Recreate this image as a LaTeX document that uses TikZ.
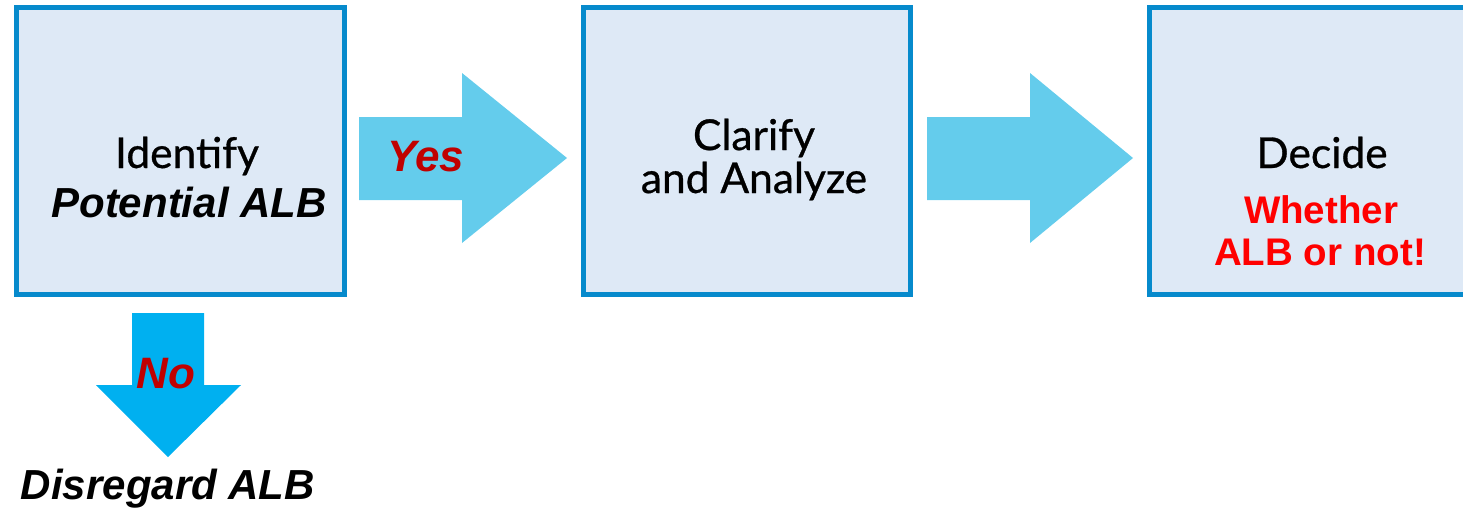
\documentclass[tikz,border=0pt]{standalone}
\usepackage{fontspec}
\setmainfont{Liberation Sans}
\newfontfamily\stepfont[FakeBold=0.7]{Lato}
\definecolor{boxfill}{RGB}{222,233,246}
\definecolor{boxline}{RGB}{6,138,204}
\definecolor{flowblue}{RGB}{100,204,236}
\definecolor{noblue}{RGB}{0,176,240}
\definecolor{darkred}{RGB}{192,0,0}
\definecolor{alertred}{RGB}{255,0,0}
\tikzset{
  stagebox/.style={draw=boxline, fill=boxfill, line width=5pt, rectangle,
    inner sep=0pt, outer sep=0pt, minimum width=#1, minimum height=287pt},
  stagetext/.style={font=\stepfont\fontsize{42.5}{46}\selectfont, anchor=base, inner sep=0pt},
  boldit/.style={font=\bfseries\itshape\fontsize{42}{48}\selectfont, anchor=base, inner sep=0pt},
  verdict/.style={font=\bfseries\fontsize{38.5}{44}\selectfont, text=alertred, anchor=base, inner sep=0pt},
  answer/.style={font=\bfseries\itshape\fontsize{44}{50}\selectfont, text=darkred, anchor=base, inner sep=0pt},
}
\begin{document}
\begin{tikzpicture}[x=1pt,y=-1pt]
  \useasboundingbox (0,0) rectangle (1463,509);
  \clip (0,0) rectangle (1463,509);

  % the three stages
  \node[stagebox=328pt] (identify) at (180.5,151) {};
  \node[stagebox=327pt] (clarify)  at (747,151) {};
  \node[stagebox=327pt] (decide)   at (1313,151) {};

  % block arrows between the stages
  \fill[flowblue] (359,117) -- (462,117) -- (462,73) -- (567,158)
                  -- (462,243) -- (462,200) -- (359,200) -- cycle;
  \fill[flowblue] (927,117) -- (1030,117) -- (1030,73) -- (1133,158)
                  -- (1030,243) -- (1030,200) -- (927,200) -- cycle;
  % block arrow downwards
  \fill[noblue] (132,313) -- (204,313) -- (204,385) -- (241,385) -- (168,457)
                -- (96,385) -- (132,385) -- cycle;

  % stage texts
  \node[stagetext] (t1) at (187,168) {Identify};
  \node[boldit]    (t2) at (189,217) {Potential ALB};
  \node[stagetext] (t3) at (754,150) {Clarify};
  \node[stagetext] (t4) at (754,193) {and Analyze};
  \node[stagetext] (t5) at (1322,168) {Decide};
  \node[verdict]   (t6) at (1321,223) {Whether};
  \node[verdict]   (t7) at (1320,265) {ALB or not!};

  % answers
  \node[answer] (yes) at (426,171) {Yes};
  \node[answer] (no)  at (166,388) {No};
  \node[boldit] (disregard) at (168,499) {Disregard ALB};
\end{tikzpicture}
\end{document}
